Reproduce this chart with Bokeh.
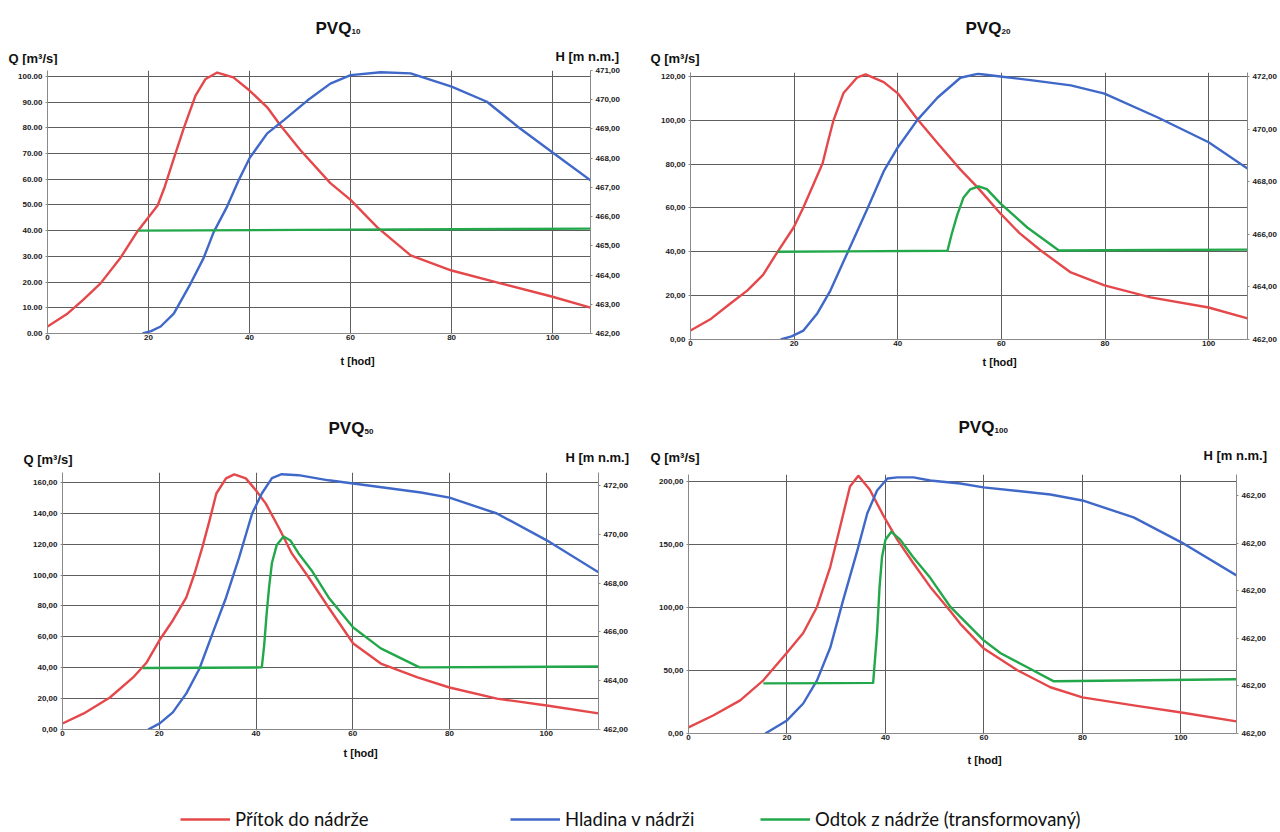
from bokeh.plotting import figure
from bokeh.models import Range1d, LinearAxis, FixedTicker, Label, Legend, LegendItem
from bokeh.layouts import column, row
from bokeh.embed import file_html
from bokeh.resources import INLINE

# ---------------- data ----------------
t_ticks = [0, 20, 40, 60, 80, 100]

# PVQ10
pvq10_t_in = [0, 4, 7, 10.5, 14.5, 17.8, 21.8, 23.2, 25, 27, 29.3, 31.3, 33.6, 36.8, 40, 43.5, 46.1, 50, 56, 60, 65.3, 71.9, 80, 89.7, 99.8, 107.5]
pvq10_q_in = [2.7, 7.8, 13.0, 19.5, 29.6, 39.7, 49.8, 57.0, 68.0, 80.0, 92.5, 99.0, 101.5, 99.6, 94.5, 88.0, 81.0, 71.5, 58.5, 52.0, 41.3, 30.4, 24.5, 19.5, 14.4, 10.1]
pvq10_t_h = [18.8, 20.5, 22.4, 25, 28.3, 30.9, 32.9, 35.6, 37.8, 40, 43.5, 46.8, 51.5, 56, 60, 66, 71.9, 80, 87, 93.3, 100.2, 107.5]
pvq10_h = [462.0, 462.08, 462.24, 462.68, 463.7, 464.58, 465.47, 466.36, 467.23, 468.0, 468.85, 469.3, 469.98, 470.55, 470.84, 470.94, 470.9, 470.45, 469.93, 469.05, 468.17, 467.24]
pvq10_t_out = [18.0, 60, 107.5]
pvq10_q_out = [40.0, 40.4, 40.8]
pvq10_q_ticks = [0, 10, 20, 30, 40, 50, 60, 70, 80, 90, 100]
pvq10_q_labels = ["0.00", "10.00", "20.00", "30.00", "40.00", "50.00", "60.00", "70.00", "80.00", "90.00", "100.00"]
pvq10_h_ticks = [462, 463, 464, 465, 466, 467, 468, 469, 470, 471]
pvq10_h_labels = ["462,00", "463,00", "464,00", "465,00", "466,00", "467,00", "468,00", "469,00", "470,00", "471,00"]

# PVQ20
pvq20_t_in = [0, 4, 7.7, 11, 14, 16.8, 19.9, 21.8, 23.8, 25.5, 26.5, 27.6, 29.5, 32.2, 33.8, 37.3, 40, 43.8, 47.7, 52.1, 55.4, 59.8, 63.5, 67.6, 73.4, 79.9, 88.8, 100, 107.5]
pvq20_q_in = [4.1, 9.5, 16.4, 22.4, 29.5, 40.0, 51.1, 60.3, 71.2, 80.4, 90.0, 100.0, 112.3, 119.6, 120.9, 117.4, 112.3, 100.5, 89.5, 77.5, 69.4, 57.5, 48.5, 40.6, 30.6, 24.7, 19.2, 14.6, 9.6]
pvq20_t_h = [17.4, 19.5, 21.8, 24.5, 27, 30.3, 34.2, 37.3, 40, 43.8, 47.7, 52.1, 55.4, 59.8, 66, 73.4, 79.9, 90.2, 100, 107.5]
pvq20_h = [462.0, 462.12, 462.34, 463.0, 463.86, 465.3, 467.0, 468.4, 469.3, 470.35, 471.2, 471.95, 472.1, 472.0, 471.85, 471.66, 471.35, 470.44, 469.5, 468.5]
pvq20_t_out = [16.8, 30, 49.6, 50.4, 51.5, 52.7, 54, 55.6, 57.2, 59.8, 65, 71.1, 90, 107.5]
pvq20_q_out = [40.0, 40.2, 40.5, 48.0, 57.0, 64.8, 68.5, 69.9, 68.6, 62.1, 51.1, 40.6, 40.8, 41.0]
pvq20_q_ticks = [0, 20, 40, 60, 80, 100, 120]
pvq20_q_labels = ["0,00", "20,00", "40,00", "60,00", "80,00", "100,00", "120,00"]
pvq20_h_ticks = [462, 464, 466, 468, 470, 472]
pvq20_h_labels = ["462,00", "464,00", "466,00", "468,00", "470,00", "472,00"]

# PVQ50
pvq50_t_in = [0, 4.4, 9.8, 14.6, 17.4, 20, 22.8, 25.6, 27.3, 28.9, 30.4, 31.8, 33.8, 35.5, 37.9, 40, 42, 44.7, 47.4, 50.9, 55, 60.1, 65.8, 73.4, 80, 89.8, 100.1, 110.8]
pvq50_q_in = [3.9, 10.4, 20.7, 33.7, 43.4, 57.6, 70.6, 85.5, 101.0, 117.9, 135.4, 152.8, 162.6, 165.2, 162.6, 154.8, 146.4, 130.8, 114.0, 98.4, 79.0, 55.7, 42.7, 33.7, 27.2, 20.0, 15.5, 10.4]
pvq50_t_h = [17.7, 20.1, 22.8, 25.6, 28.3, 31, 33.8, 36.5, 39.2, 41.2, 43.3, 45.3, 48.8, 55, 60.1, 74.1, 80, 89.8, 100.1, 110.8]
pvq50_h = [462.0, 462.25, 462.7, 463.48, 464.49, 465.93, 467.4, 469.04, 470.85, 471.67, 472.3, 472.46, 472.42, 472.21, 472.08, 471.71, 471.5, 470.85, 469.75, 468.44]
pvq50_t_out = [16.6, 30, 41.2, 41.7, 42.2, 42.7, 43.3, 44.3, 45.7, 47.1, 48.8, 51.5, 55, 60.1, 65.8, 73.8, 110.8]
pvq50_q_out = [39.8, 40.0, 40.2, 55.0, 75.0, 92.0, 108.0, 119.5, 125.0, 122.4, 114.0, 103.0, 85.5, 66.0, 52.5, 40.2, 40.8]
pvq50_q_ticks = [0, 20, 40, 60, 80, 100, 120, 140, 160]
pvq50_q_labels = ["0,00", "20,00", "40,00", "60,00", "80,00", "100,00", "120,00", "140,00", "160,00"]
pvq50_h_ticks = [462, 464, 466, 468, 470, 472]
pvq50_h_labels = ["462,00", "464,00", "466,00", "468,00", "470,00", "472,00"]

# PVQ100
pvq100_t_in = [0, 5, 10.5, 15.2, 19.9, 23.3, 26.1, 28.8, 30.8, 32.8, 34.5, 36.8, 39.7, 42.4, 45.6, 49.1, 53.2, 55.2, 59.9, 66.8, 73.5, 80, 90.4, 100.1, 111.3]
pvq100_q_in = [4.8, 14.3, 26.3, 42.2, 63.7, 79.7, 100.4, 132.3, 164.1, 196.0, 204.5, 193.6, 172.0, 153.8, 135.5, 116.3, 97.0, 87.0, 67.7, 50.2, 36.7, 28.7, 22.3, 16.7, 9.6]
pvq100_t_h = [15.6, 20, 23.3, 26.1, 28.8, 31.4, 34.3, 36.3, 38.3, 40.4, 42.4, 45.7, 49.1, 55.2, 59.9, 73.5, 80, 90.4, 100.1, 111.3]
pvq100_h = [462.0, 462.55, 463.26, 464.23, 465.61, 467.59, 469.69, 471.24, 472.21, 472.71, 472.76, 472.76, 472.63, 472.5, 472.34, 472.04, 471.79, 471.08, 470.03, 468.64]
pvq100_t_out = [15.2, 30, 37.5, 38.3, 38.8, 39.3, 40, 41.2, 43, 45.6, 49.1, 53.2, 59.9, 63.4, 68.8, 74.2, 111.3]
pvq100_q_out = [39.8, 40.0, 40.2, 80.0, 116.0, 140.0, 153.8, 160.0, 153.8, 140.0, 123.5, 100.4, 74.1, 63.7, 52.6, 41.4, 43.0]
pvq100_q_ticks = [0, 50, 100, 150, 200]
pvq100_q_labels = ["0,00", "50,00", "100,00", "150,00", "200,00"]
pvq100_h_ticks = [462, 464, 466, 468, 470, 472]
pvq100_h_labels = ["462,00", "462,00", "462,00", "462,00", "462,00", "462,00"]

legend_labels = ["Přítok do nádrže", "Hladina v nádrži", "Odtok z nádrže (transformovaný)"]

# ---------------- style ----------------
RED = "#e5484b"
BLUE = "#3f68c8"
GREEN = "#22a84a"
GRID = "#5e5e5e"
AX = "#8a8a8a"
FONT = "Liberation Sans"
LEG_FONT = "Lato"
PLOT_TOP = 5      # border above the frame inside a plot figure
PLOT_BOTTOM = 12  # border below the frame inside a plot figure


def style_axis(ax, standoff=3):
    ax.axis_line_color = AX
    ax.major_tick_line_color = AX
    ax.major_tick_in = 0
    ax.major_tick_out = 2
    ax.minor_tick_line_color = None
    ax.major_label_text_font = FONT
    ax.major_label_text_font_style = "bold"
    ax.major_label_text_font_size = "8px"
    ax.major_label_text_color = "#1a1a1a"
    ax.major_label_standoff = standoff


def strip(w, h):
    s = figure(width=w, height=h, title=None, x_range=Range1d(0, 1), y_range=Range1d(0, 1),
               x_axis_location=None, y_axis_location=None, min_border=0,
               output_backend="svg", toolbar_location=None)
    s.frame_align = False
    s.outline_line_color = None
    s.xgrid.visible = False
    s.ygrid.visible = False
    return s


def page_label(s, left, bottom, x, y, text, size, style="bold"):
    s.add_layout(Label(x=x - left, y=bottom - y, x_units="screen", y_units="screen",
                       text=text, text_font=FONT, text_font_size=size,
                       text_font_style=style, text_color="#111111",
                       text_baseline="alphabetic", text_align="left"))


def make_panel(box, frame, x_end, q_end, h_rng, q_ticks, q_labels, h_ticks, h_labels,
               t_in, q_in, t_h, hh, t_out, q_out, sub, title_xy, q_xy, h_xy, t_xy):
    x0, y0, w, h = box
    fl, ft, fr, fb = frame
    top_h = (ft - PLOT_TOP) - y0
    plot_h = (fb + PLOT_BOTTOM) - (ft - PLOT_TOP)
    bot_h = y0 + h - (fb + PLOT_BOTTOM)

    p = figure(width=w, height=plot_h, title=None, x_range=Range1d(0, x_end), y_range=Range1d(0, q_end),
               output_backend="svg", toolbar_location=None,
               min_border_left=fl - x0, min_border_right=x0 + w - fr,
               min_border_top=PLOT_TOP, min_border_bottom=PLOT_BOTTOM)
    p.frame_align = False
    p.extra_y_ranges = {"h": Range1d(h_rng[0], h_rng[1])}
    p.xaxis.ticker = FixedTicker(ticks=t_ticks)
    p.yaxis.ticker = FixedTicker(ticks=q_ticks)
    p.yaxis.major_label_overrides = dict(zip(q_ticks, q_labels))
    rax = LinearAxis(y_range_name="h", ticker=FixedTicker(ticks=h_ticks),
                     major_label_overrides=dict(zip(h_ticks, h_labels)))
    p.add_layout(rax, "right")
    for ax in p.yaxis:
        style_axis(ax, 3)
    style_axis(p.xaxis[0], 0)
    p.xaxis.major_tick_out = 1
    p.xgrid.grid_line_color = GRID
    p.ygrid.grid_line_color = GRID
    p.outline_line_color = None
    p.line(t_in, q_in, line_color=RED, line_width=2.4, line_join="round")
    p.line(t_h, hh, line_color=BLUE, line_width=2.4, line_join="round", y_range_name="h")
    p.line(t_out, q_out, line_color=GREEN, line_width=2.4, line_join="round")

    top = strip(w, top_h)
    tb = y0 + top_h
    page_label(top, x0, tb, title_xy[0], title_xy[1], "PVQ", "17px")
    page_label(top, x0, tb, title_xy[0] + 36, title_xy[1] + 3, sub, "8px")
    page_label(top, x0, tb, q_xy[0], q_xy[1], "Q [m³/s]", "13px")
    if h_xy is not None:
        page_label(top, x0, tb, h_xy[0], h_xy[1], "H [m n.m.]", "13px")

    bot = strip(w, bot_h)
    page_label(bot, x0, y0 + h, t_xy[0], t_xy[1], "t [hod]", "11px")
    return column(top, p, bot)


# page coordinates (the page starts at the window's top-left corner)
# Panel A : box x 0..630, y 0..398 ; frame x 47..590, y 70..333
cA = make_panel((0, 0, 630, 398), (47, 70, 590, 333), 107.5, 102.3, (462, 471),
                pvq10_q_ticks, pvq10_q_labels, pvq10_h_ticks, pvq10_h_labels,
                pvq10_t_in, pvq10_q_in, pvq10_t_h, pvq10_h, pvq10_t_out, pvq10_q_out,
                "10", (315, 28), (8, 58), (555, 56), (340, 360))

# Panel B : box x 630..1280, y 0..398 ; frame x 690..1247, y 72..339
cB = make_panel((630, 0, 650, 398), (690, 72, 1247, 339), 107.5, 121.8, (462, 472.15),
                pvq20_q_ticks, pvq20_q_labels, pvq20_h_ticks, pvq20_h_labels,
                pvq20_t_in, pvq20_q_in, pvq20_t_h, pvq20_h, pvq20_t_out, pvq20_q_out,
                "20", (965, 28), (650, 58), None, (982, 361))

# Panel C : box x 0..630, y 398..784 ; frame x 62..602, y 472..729
cC = make_panel((0, 398, 630, 386), (62, 472, 602, 729), 110.8, 166.4, (462, 472.53),
                pvq50_q_ticks, pvq50_q_labels, pvq50_h_ticks, pvq50_h_labels,
                pvq50_t_in, pvq50_q_in, pvq50_t_h, pvq50_h, pvq50_t_out, pvq50_q_out,
                "50", (328, 428), (23, 459), (565, 457), (343, 752))

# Panel D : box x 630..1280, y 398..784 ; frame x 688..1236, y 474..733
cD = make_panel((630, 398, 650, 386), (688, 474, 1236, 733), 111.3, 205.5, (462, 472.88),
                pvq100_q_ticks, pvq100_q_labels, pvq100_h_ticks, pvq100_h_labels,
                pvq100_t_in, pvq100_q_in, pvq100_t_h, pvq100_h, pvq100_t_out, pvq100_q_out,
                "100", (958, 427), (650, 457), (1203, 455), (967, 759))

# Legend strip : page x 0..1280, y 784..830
pL = strip(1280, 46)
legend_x = [180, 510, 760]
for lab, col, lx in zip(legend_labels, [RED, BLUE, GREEN], legend_x):
    r = pL.line([-2, -1], [-2, -1], line_color=col, line_width=2.4)
    lg = Legend(items=[LegendItem(label=lab, renderers=[r])], location=(lx, 0),
                orientation="horizontal", padding=0, margin=0, spacing=0,
                glyph_width=50, glyph_height=20, label_standoff=5, label_height=20,
                label_text_font=LEG_FONT, label_text_font_size="18.5px", label_text_color="#111111",
                border_line_color=None, background_fill_alpha=0)
    pL.add_layout(lg)

layout = column(row(cA, cB), row(cC, cD), pL)
open("out.html", "w").write(file_html(layout, INLINE))
